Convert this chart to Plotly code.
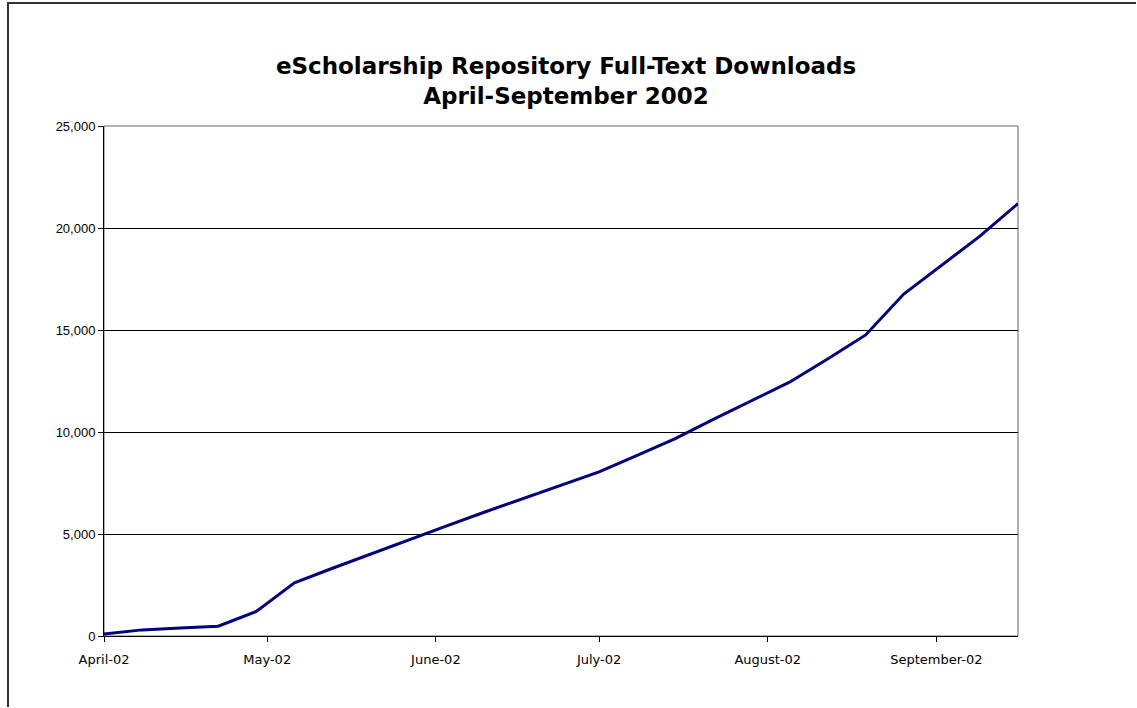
import plotly.graph_objects as go

# ---- data ----
dates = ["2002-04-01", "2002-04-08", "2002-04-15", "2002-04-22", "2002-04-29",
         "2002-05-06", "2002-05-13", "2002-05-20", "2002-05-27",
         "2002-06-03", "2002-06-10", "2002-06-17", "2002-06-24",
         "2002-07-01", "2002-07-08", "2002-07-15", "2002-07-22", "2002-07-29",
         "2002-08-05", "2002-08-12", "2002-08-19", "2002-08-26",
         "2002-09-02", "2002-09-09", "2002-09-16"]
downloads = [100, 300, 390, 480, 1200,
             2610, 3320, 4020, 4720,
             5400, 6080, 6730, 7360,
             8045, 8860, 9680, 10620, 11530,
             12440, 13580, 14760, 16760,
             18200, 19600, 21200]

month_ticks = ["2002-04-01", "2002-05-01", "2002-06-01", "2002-07-01", "2002-08-01", "2002-09-01"]
month_labels = ["April-02", "May-02", "June-02", "July-02", "August-02", "September-02"]
y_ticks = [0, 5000, 10000, 15000, 20000, 25000]

title_lines = ["eScholarship Repository Full-Text Downloads", "April-September 2002"]

# ---- layout geometry ----
W, H = 1137, 708
L, R, T, B = 104, W - 1018, 126, H - 636
pw, ph = W - L - R, H - T - B

def px_to_paper_x(px):
    return (px - L) / pw

def px_to_paper_y(py):
    return (H - B - py) / ph

fig = go.Figure()
fig.add_trace(go.Scatter(
    x=dates, y=downloads, mode="lines",
    line=dict(color="#000080", width=3),
    hoverinfo="x+y", showlegend=False,
))

fig.update_layout(
    width=W, height=H,
    margin=dict(l=L, r=R, t=T, b=B),
    paper_bgcolor="white", plot_bgcolor="white",
    title=dict(
        text="<b>" + title_lines[0] + "<br>" + title_lines[1] + "</b>",
        x=566 / W, xanchor="center", xref="container",
        y=1 - 74 / H, yanchor="middle", yref="container",
        font=dict(family="DejaVu Sans", size=23, color="black"),
    ),
    xaxis=dict(
        type="date",
        range=["2002-04-01", "2002-09-16"],
        tickmode="array", tickvals=month_ticks, ticktext=month_labels,
        ticks="outside", ticklen=5, tickcolor="black", tickwidth=1,
        ticklabelstandoff=6,
        showline=True, linecolor="black", linewidth=1,
        showgrid=False, zeroline=False,
        tickfont=dict(family="DejaVu Sans", size=13, color="black"),
    ),
    yaxis=dict(
        range=[0, 25000],
        tickmode="array", tickvals=y_ticks,
        tickformat=",d",
        ticks="outside", ticklen=5, tickcolor="black", tickwidth=1,
        showline=True, linecolor="black", linewidth=1,
        showgrid=True, gridcolor="black", gridwidth=1,
        zeroline=False,
        tickfont=dict(family="Liberation Sans", size=13, color="black"),
    ),
    shapes=[
        # plot-area frame (grey right/top edges)
        dict(type="rect", xref="paper", yref="paper", x0=0, x1=1, y0=0, y1=1,
             line=dict(color="#666666", width=1), layer="below"),
        # outer chart border: left and top edges only are inside the picture
        dict(type="line", xref="paper", yref="paper",
             x0=px_to_paper_x(8), x1=px_to_paper_x(8),
             y0=px_to_paper_y(H - 1), y1=px_to_paper_y(3),
             line=dict(color="#333333", width=2), layer="below"),
        dict(type="line", xref="paper", yref="paper",
             x0=px_to_paper_x(7), x1=px_to_paper_x(W - 1),
             y0=px_to_paper_y(3), y1=px_to_paper_y(3),
             line=dict(color="#333333", width=2), layer="below"),
    ],
)

fig.write_html(
    "out.html",
    config={"displayModeBar": False},
    post_script="document.documentElement.style.overflow='hidden';"
                "document.body.style.margin='0';"
                "document.body.style.overflow='hidden';",
)
